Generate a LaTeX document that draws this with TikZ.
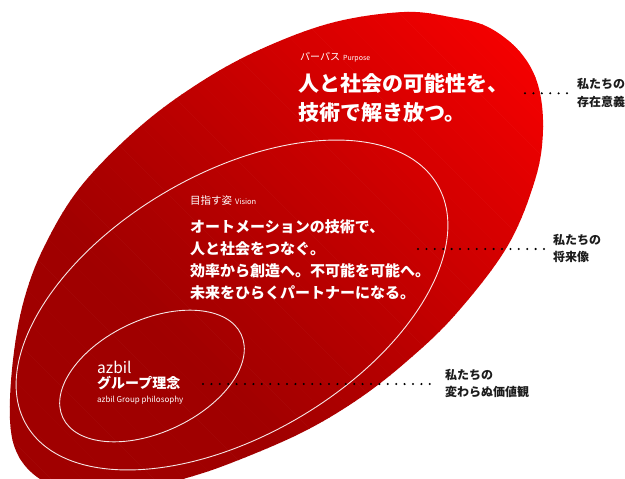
\documentclass[tikz,border=0pt]{standalone}
\usepackage{fontspec}
\newfontfamily\jp{Noto Sans CJK JP}
\definecolor{labelgray}{RGB}{28,28,28}
\begin{document}
\begin{tikzpicture}[x=1pt,y=-1pt,
  whiteline/.style={draw=white, line width=0.9pt, opacity=0.9},
  intext/.style={text=white, inner sep=0pt, anchor=base west},
  sidelabel/.style={text=labelgray, inner sep=0pt, anchor=base west, font=\jp\bfseries\fontsize{12}{14}\selectfont},
  dotline/.style={draw=black, line width=2.3pt, line cap=round, dash pattern=on 0pt off 8.4pt}]
\useasboundingbox (0,0) rectangle (625,479);
% outer red shape with diagonal gradient (dark lower left -> bright upper right)
\begin{scope}
\clip (0,0) rectangle (625,479);
\clip plot[smooth cycle, tension=0.6] coordinates {
 (404,12) (450,17) (488,27) (520,52) (538,85) (543,130) (535,180) (507,247)
 (455,315) (406,362) (357,400) (301,433) (231,463) (183,479) (130,492) (75,492)
 (40,479) (18,455) (10,420) (13,360) (24,300) (45,245) (82,185) (143,124)
 (207,78) (268,46) (335,22)};
\foreach \i in {0,...,99} {
  \pgfmathsetmacro{\sA}{-490 + \i*10.3}
  \pgfmathsetmacro{\sB}{\sA + 11}
  \pgfmathsetmacro{\tval}{min(1,max(0.0001,((\sA + 5 + 485)/1018 - 0.3)/0.7))}
  \pgfmathtruncatemacro{\rv}{160 + 95*(\tval)^1.15}
  \definecolor{stripe}{RGB}{\rv,0,0}
  \fill[stripe] (\sA-50,-50) -- (\sA+550,550) -- (\sB+550,550) -- (\sB-50,-50) -- cycle;
}
\end{scope}
% white outlines
\begin{scope}[shift={(232,305)}, rotate=30.3]
\draw[whiteline] (0,0) ellipse [x radius=238, y radius=131];
\end{scope}
\begin{scope}[shift={(152,376)}, rotate=25]
\draw[whiteline] (0,0) ellipse [x radius=98.4, y radius=56.3];
\end{scope}
% purpose
\node[intext, font=\jp\fontsize{10}{12}\selectfont] (plabel) at (300,60.8) {パーパス\hspace{3pt}{\fontsize{7}{8}\selectfont Purpose}};
\node[intext, font=\jp\bfseries\fontsize{21}{24}\selectfont] (pline1) at (298,91) {人と社会の可能性を、};
\node[intext, font=\jp\bfseries\fontsize{21}{24}\selectfont] (pline2) at (298,120) {技術で解き放つ。};
% vision
\node[intext, font=\jp\fontsize{10.5}{12}\selectfont] (vlabel) at (190,204) {目指す姿\hspace{3pt}{\fontsize{7.5}{8}\selectfont Vision}};
\node[intext, font=\jp\bfseries\fontsize{15}{18}\selectfont] (vline1) at (190,232) {オートメーションの技術で、};
\node[intext, font=\jp\bfseries\fontsize{15}{18}\selectfont] (vline2) at (190,254.3) {人と社会をつなぐ。};
\node[intext, font=\jp\bfseries\fontsize{15}{18}\selectfont] (vline3) at (190,276.6) {効率から創造へ。不可能を可能へ。};
\node[intext, font=\jp\bfseries\fontsize{15}{18}\selectfont] (vline4) at (190,298.9) {未来をひらくパートナーになる。};
% philosophy
\node[intext, font=\jp\fontsize{15.5}{18}\selectfont] (azbil) at (97,373) {azbil};
\node[intext, font=\jp\bfseries\fontsize{14}{16}\selectfont] (gphil) at (97,388.3) {グループ理念};
\node[intext, font=\jp\fontsize{8}{9}\selectfont] (ephil) at (97,402.5) {azbil Group philosophy};
% side labels
\node[sidelabel] (s1a) at (577,88) {私たちの};
\node[sidelabel] (s1b) at (577,106) {存在意義};
\node[sidelabel] (s2a) at (553,244.6) {私たちの};
\node[sidelabel] (s2b) at (553,261.6) {将来像};
\node[sidelabel] (s3a) at (445,379.6) {私たちの};
\node[sidelabel] (s3b) at (445,396.6) {変わらぬ価値観};
% dotted leaders
\coordinate (d1a) at (525,93.3);
\coordinate (d1b) at (567,93.3);
\coordinate (d2a) at (418,249);
\coordinate (d2b) at (545,249);
\coordinate (d3a) at (203,384);
\coordinate (d3b) at (438,384);
\draw[dotline] (d1a) -- (d1b);
\draw[dotline] (d2a) -- (d2b);
\draw[dotline] (d3a) -- (d3b);
\end{tikzpicture}
\end{document}
